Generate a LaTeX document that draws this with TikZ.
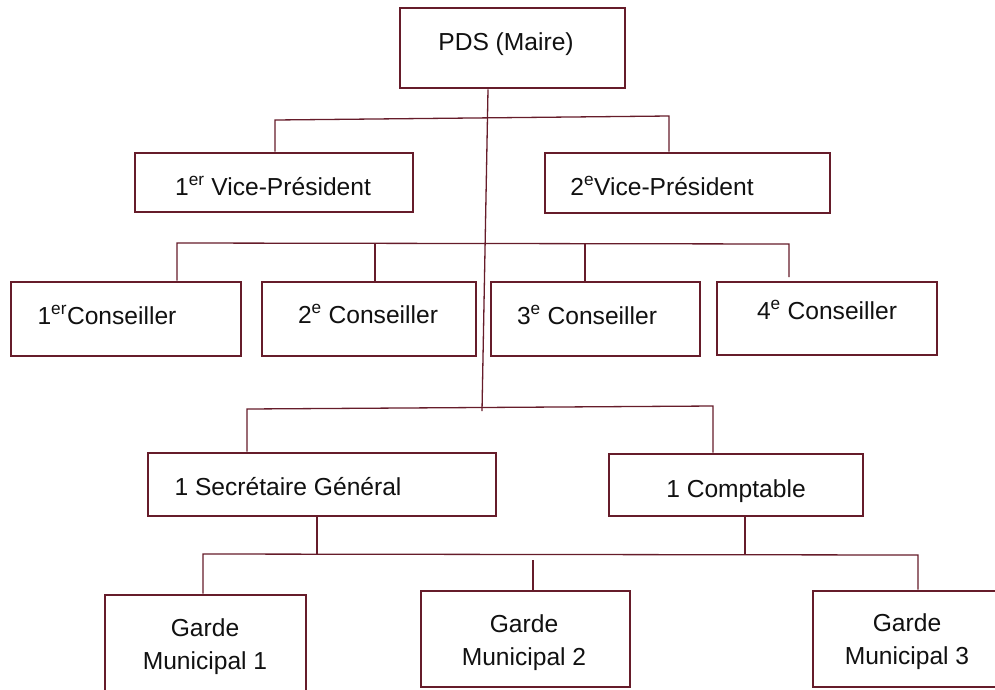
\documentclass[tikz,border=0pt]{standalone}
\usepackage{fontspec}
\setmainfont{Liberation Sans}
\definecolor{maroon}{HTML}{661C2A}
\definecolor{txtcol}{HTML}{111111}
\begin{document}
\begin{tikzpicture}[x=1pt,y=-1pt,
  box/.style={draw=maroon,line width=2.9pt,fill=white,inner sep=0pt,rectangle},
  conn/.style={draw=maroon,line width=1.3pt},
  txt/.style={font=\fontsize{24.6}{33}\selectfont,text=txtcol,inner sep=0pt},
  lbl/.style={txt,anchor=base}]
\useasboundingbox (0,0) rectangle (995,689);
\clip (0,0) rectangle (995,689);
% boxes
\node[box,minimum width=225pt,minimum height=80pt] (pds) at (512.5,48) {};
\node[box,minimum width=278pt,minimum height=59pt] (vp1) at (274,182.5) {};
\node[box,minimum width=285pt,minimum height=60pt] (vp2) at (687.5,183) {};
\node[box,minimum width=230pt,minimum height=74pt] (c1) at (126,319) {};
\node[box,minimum width=214pt,minimum height=74pt] (c2) at (369,319) {};
\node[box,minimum width=209pt,minimum height=74pt] (c3) at (595.5,319) {};
\node[box,minimum width=220pt,minimum height=73pt] (c4) at (827,318.5) {};
\node[box,minimum width=348pt,minimum height=63pt] (sg) at (322,484.5) {};
\node[box,minimum width=254pt,minimum height=62pt] (cp) at (736,485) {};
\node[box,minimum width=201pt,minimum height=135pt] (g1) at (205.5,662.5) {};
\node[box,minimum width=209pt,minimum height=96pt] (g2) at (525.5,639) {};
\node[box,minimum width=192pt,minimum height=96pt] (g3) at (909,639) {};
% texts
\node[lbl] (tpds) at (506,50) {PDS (Maire)};
\node[lbl] (tvp1) at (273,195) {1\textsuperscript{er} Vice-Président};
\node[lbl] (tvp2) at (662,195) {2\textsuperscript{e}Vice-Président};
\node[lbl] (tc1) at (107,324) {1\textsuperscript{er}Conseiller};
\node[lbl] (tc2) at (368,323) {2\textsuperscript{e} Conseiller};
\node[lbl] (tc3) at (587,324) {3\textsuperscript{e} Conseiller};
\node[lbl] (tc4) at (827,319) {4\textsuperscript{e} Conseiller};
\node[lbl] (tsg) at (288,495) {1 Secrétaire Général};
\node[lbl] (tcp) at (736,497) {1 Comptable};
\node[txt,align=center] (tg1) at (205,647) {Garde\\Municipal 1};
\node[txt,align=center] (tg2) at (524,643) {Garde\\Municipal 2};
\node[txt,align=center] (tg3) at (907,642) {Garde\\Municipal 3};
% trunk
\coordinate (ta) at (488,0);
\coordinate (tb) at (482,411);
\draw[conn] (pds.south -| ta) -- (tb);
% bus 1
\coordinate (h1l) at (275,120);
\coordinate (h1r) at (669,116);
\draw[conn] (h1l |- vp1.north) -- (h1l) -- (h1r) -- (h1r |- vp2.north);
% bus 2
\coordinate (h2l) at (177,243);
\coordinate (h2r) at (789,244);
\coordinate (c4end) at (789,277);
\coordinate (v2) at (375,244);
\coordinate (v3) at (585,244);
\draw[conn] (h2l |- c1.north) -- (h2l) -- (h2r) -- (c4end);
\draw[conn] (v2) -- (v2 |- c2.north);
\draw[conn] (v3) -- (v3 |- c3.north);
% bus 3
\coordinate (h3l) at (247,409);
\coordinate (h3r) at (713,406);
\draw[conn] (h3l |- sg.north) -- (h3l) -- (h3r) -- (h3r |- cp.north);
% bus 4
\coordinate (h4l) at (203,554);
\coordinate (h4r) at (918,555);
\coordinate (s1) at (317,554);
\coordinate (s2) at (745,555);
\coordinate (v5) at (533,560);
\draw[conn] (sg.south -| s1) -- (s1);
\draw[conn] (cp.south -| s2) -- (s2);
\draw[conn] (h4l |- g1.north) -- (h4l) -- (h4r) -- (h4r |- g3.north);
\draw[conn] (v5) -- (v5 |- g2.north);
\end{tikzpicture}
\end{document}
